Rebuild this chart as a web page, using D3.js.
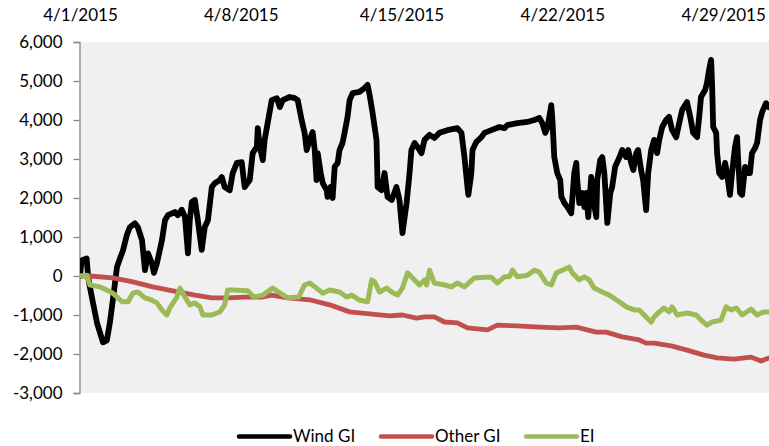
<!DOCTYPE html>
<html><head><meta charset="utf-8">
<script src="https://cdn.jsdelivr.net/npm/d3@7"></script>
<style>body{margin:0;background:#fff}svg{display:block}text{font-family:Lato,"Open Sans",sans-serif;fill:#000}</style>
</head><body><svg id="c" width="769" height="446"></svg>
<script>
// Day offsets from 4/1/2015 and values
const windDays = [0,0.07,0.29,0.35,0.43,0.57,0.74,0.87,1.0,1.17,1.30,1.43,1.61,1.74,1.87,2.04,2.17,2.39,2.52,2.70,2.83,2.96,3.13,3.22,3.35,3.57,3.70,3.83,4.13,4.26,4.43,4.57,4.70,4.78,4.87,5.0,
5.13,5.30,5.43,5.57,5.74,5.87,6.09,6.17,6.30,6.52,6.65,6.83,7.04,7.17,7.39,7.52,7.70,7.74,7.83,7.96,8.04,8.17,8.35,8.57,8.70,8.83,9.13,9.35,9.48,9.65,9.78,9.87,10.0,
10.13,10.22,10.30,10.35,10.48,10.57,10.74,10.78,10.91,11.0,11.09,11.22,11.30,11.43,11.52,11.65,11.74,11.87,12.17,12.39,12.52,12.61,12.74,12.91,12.96,13.13,13.26,13.39,13.57,13.78,13.91,14.04,14.22,14.35,14.43,14.57,14.70,14.87,15.0,
15.22,15.43,15.65,16.0,16.43,16.61,16.74,16.87,16.91,17.04,17.09,17.26,17.48,17.61,17.91,18.26,18.48,18.61,19.04,19.48,19.78,20.0,
20.13,20.26,20.35,20.52,20.57,20.65,20.78,20.91,20.96,21.09,21.22,21.39,21.52,21.61,21.65,21.74,21.87,21.96,22.04,22.13,22.26,22.35,22.48,22.52,22.65,22.74,22.83,22.96,23.09,23.17,23.30,23.48,23.61,23.78,23.87,24.0,24.09,24.22,24.30,24.43,24.52,24.65,24.74,24.87,25.0,
25.13,25.22,25.35,25.52,25.65,25.78,25.96,26.09,26.22,26.43,26.57,26.70,26.87,26.96,27.04,27.22,27.30,27.39,27.48,27.52,27.57,27.70,27.74,27.83,27.96,28.09,28.17,28.30,28.39,28.52,28.61,28.65,28.74,28.83,28.96,29.04,29.17,29.26,29.39,29.48,29.61,29.70,29.87,30.0];
const windGI = [0,400,450,0,-280,-700,-1200,-1450,-1700,-1650,-1200,-620,230,450,650,1050,1250,1350,1250,920,150,580,330,80,330,920,1430,1560,1640,1560,1700,1510,580,1430,1900,1950,
1430,670,1250,1430,2280,2380,2460,2540,2280,2200,2640,2900,2920,2280,2460,3150,3310,3790,3310,2970,3490,3920,4510,4560,4330,4510,4590,4560,4510,4000,3670,3230,3490,
3690,3230,2460,3150,2640,2380,2200,2030,2280,2000,2800,2900,3230,3410,3670,4080,4510,4690,4720,4820,4900,4640,4180,3490,2280,2200,2640,2030,1950,2280,1950,1100,1870,2640,3230,3410,3310,3150,3490,
3620,3540,3670,3740,3790,3670,3050,2280,2080,2640,3230,3440,3560,3670,3740,3820,3790,3870,3920,3950,4000,4050,
3920,3670,3790,4380,4000,3050,2640,2460,2030,1870,1770,1610,2640,2900,2460,1870,2130,1770,2130,1510,2540,1950,1510,2460,2970,3050,2640,1360,2130,2280,2800,3030,3230,3050,3230,2900,2720,3150,3230,2720,2460,1690,2640,3230,3490,
3150,3490,3820,4000,4080,3740,3560,3920,4260,4460,4080,3670,3560,4080,4590,4770,4950,5280,5540,4950,3820,3670,3150,2640,2540,2900,2640,2080,2640,3310,3560,3050,2130,2080,2800,2640,2640,3150,3280,3410,4000,4200,4430,4330];

const otherDays = [0,0.43,1.43,2.30,3.17,4.04,5.0,5.74,6.43,7.17,7.91,8.35,9.04,10.0,10.87,11.74,12.61,13.48,14.04,14.65,15.0,15.43,15.87,16.43,16.87,17.74,18.17,19.04,20.0,20.87,21.61,22.48,22.91,23.61,24.35,24.65,25.0,25.74,26.43,27.17,27.74,28.48,29.22,29.65,30.0];
const otherGI = [0,0,-50,-150,-280,-380,-490,-560,-560,-540,-540,-490,-560,-610,-740,-920,-970,-1020,-1000,-1080,-1050,-1050,-1180,-1200,-1330,-1380,-1260,-1280,-1310,-1330,-1310,-1440,-1440,-1560,-1640,-1720,-1720,-1790,-1900,-2030,-2100,-2130,-2080,-2180,-2100];

const eiDays = [0,0.30,0.43,0.87,1.17,1.43,1.83,2.09,2.30,2.52,2.83,3.13,3.35,3.57,3.78,3.91,4.22,4.35,4.57,4.78,5.0,
5.22,5.35,5.74,6.09,6.30,6.43,6.65,7.30,7.57,7.96,8.39,8.65,9.04,9.52,9.78,10.0,
10.30,10.57,10.87,11.30,11.61,11.83,12.17,12.52,12.70,12.83,13.04,13.35,13.57,13.83,14.04,14.26,14.48,14.78,15.0,
15.09,15.22,15.43,15.87,16.17,16.43,16.74,17.17,17.61,17.91,18.17,18.48,18.70,18.83,19.04,19.48,19.78,20.0,
20.30,20.52,20.74,21.0,21.30,21.43,21.74,21.96,22.17,22.39,22.74,23.04,23.48,23.78,24.13,24.35,24.65,24.87,25.0,
25.22,25.43,25.65,25.78,26.0,26.43,26.83,27.04,27.30,27.52,27.91,28.13,28.35,28.57,28.83,29.22,29.48,29.78,30.0];
const EI = [0,20,-230,-280,-360,-440,-660,-660,-440,-410,-560,-620,-690,-870,-1000,-820,-540,-310,-540,-740,-690,
-790,-1000,-1000,-920,-740,-360,-360,-380,-540,-490,-310,-410,-560,-540,-230,-180,
-310,-440,-360,-410,-540,-490,-620,-660,-100,-150,-410,-310,-410,-490,-310,80,-50,-230,-100,
-230,150,-180,-230,-280,-180,-280,-50,-30,-30,-180,-20,-20,150,-20,20,150,100,
-180,-230,80,150,230,80,-100,-20,-100,-310,-410,-490,-660,-790,-870,-870,-1050,-1180,-1050,
-920,-820,-920,-790,-1000,-950,-1000,-1130,-1260,-1180,-1130,-790,-870,-820,-1000,-850,-1000,-920,-920];

const yTicks = [-3000,-2000,-1000,0,1000,2000,3000,4000,5000,6000];
const xTickDays = [0,7,14,21,28];
const seriesNames = ["Wind GI","Other GI","EI"];
const seriesColors = ["#000000","#C0504D","#9BBB59"];

const start = new Date(2015,3,1);
const toDate = d => new Date(start.getTime() + d*86400000);

const svg = d3.select("#c");
const L = 80, R = 769, T = 42, B = 393;
const x = d3.scaleTime().domain([start, toDate(30)]).range([L, R]);
const y = d3.scaleLinear().domain([-3000, 6000]).range([B, T]);

svg.append("rect").attr("x",L).attr("y",T).attr("width",R-L).attr("height",B-T).attr("fill","#F0F0F0");
svg.append("defs").append("clipPath").attr("id","clip").append("rect")
  .attr("x",L).attr("y",T-4).attr("width",R-L).attr("height",B-T+8);

// y axis
const numFmt = d3.format(",");
const yAxis = svg.append("g").attr("transform",`translate(${L-0.5},0)`)
  .call(d3.axisLeft(y).tickValues(yTicks).tickSize(6).tickPadding(11).tickFormat(d => numFmt(d).replace("\u2212","-")));
yAxis.select(".domain").attr("stroke","#868686").attr("stroke-width",1.3);
yAxis.selectAll(".tick line").attr("stroke","#868686").attr("stroke-width",1.3);
yAxis.selectAll("text").style("font-size","17px").attr("fill","#000");

// top date labels
const fmt = d3.timeFormat("%-m/%-d/%Y");
const xAxis = svg.append("g").attr("transform",`translate(0,${T})`)
  .call(d3.axisTop(x).tickValues(xTickDays.map(toDate)).tickSize(0).tickPadding(21).tickFormat(fmt));
xAxis.select(".domain").remove();
xAxis.selectAll("text").style("font-size","17px").attr("fill","#000");

const line = d3.line().x(d => x(toDate(d[0]))).y(d => y(d[1])).curve(d3.curveLinear);
const g = svg.append("g").attr("clip-path","url(#clip)");
[[windDays,windGI,0,5.8],[otherDays,otherGI,1,4.8],[eiDays,EI,2,5]].forEach(([dd,vv,i,w]) => {
  g.append("path").datum(dd.map((d,k)=>[d,vv[k]]))
    .attr("d",line).attr("fill","none").attr("stroke",seriesColors[i])
    .attr("stroke-width",w).attr("stroke-linejoin","round").attr("stroke-linecap","round");
});

// legend
const legX = [239, 381, 526];
const leg = svg.append("g");
seriesNames.forEach((n,i) => {
  leg.append("line").attr("x1",legX[i]).attr("x2",legX[i]+51).attr("y1",436.5).attr("y2",436.5)
    .attr("stroke",seriesColors[i]).attr("stroke-width",4.5).attr("stroke-linecap","round");
  leg.append("text").attr("x",legX[i]+54).attr("y",436.5).attr("dy","0.35em")
    .style("font-size","17px").text(n);
});
</script></body></html>
